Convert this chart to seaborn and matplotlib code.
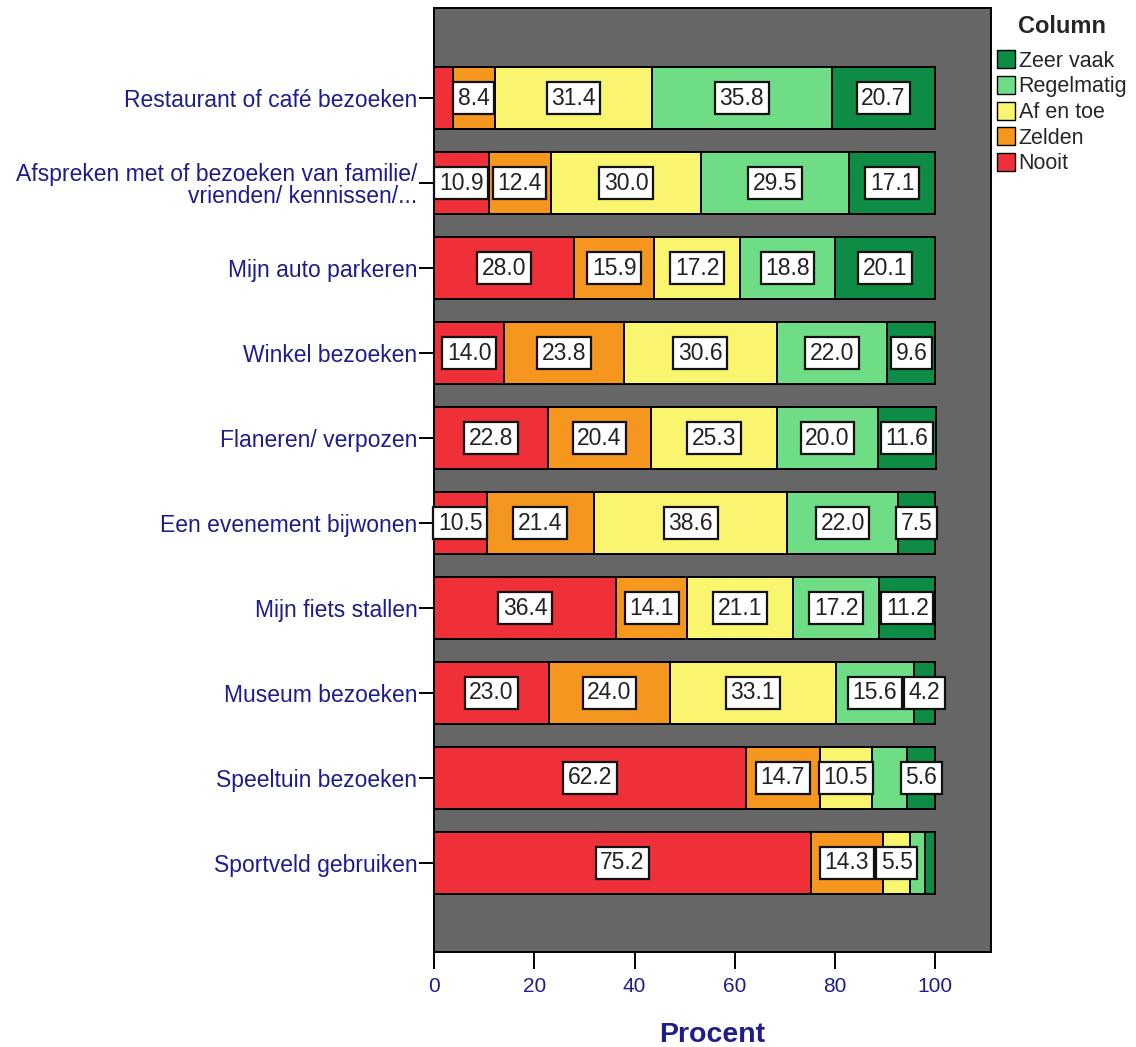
import numpy as np
import pandas as pd
import matplotlib
matplotlib.use("Agg")
import matplotlib.pyplot as plt
import seaborn as sns
from matplotlib.patches import Patch

# categorieen (van boven naar beneden)
activiteiten = [
    "Restaurant of café bezoeken",
    "Afspreken met of bezoeken van familie/\nvrienden/ kennissen/...",
    "Mijn auto parkeren",
    "Winkel bezoeken",
    "Flaneren/ verpozen",
    "Een evenement bijwonen",
    "Mijn fiets stallen",
    "Museum bezoeken",
    "Speeltuin bezoeken",
    "Sportveld gebruiken",
]

antwoorden = ["Nooit", "Zelden", "Af en toe", "Regelmatig", "Zeer vaak"]

nooit      = [3.7, 10.9, 28.0, 14.0, 22.8, 10.5, 36.4, 23.0, 62.2, 75.2]
zelden     = [8.4, 12.4, 15.9, 23.8, 20.4, 21.4, 14.1, 24.0, 14.7, 14.3]
af_en_toe  = [31.4, 30.0, 17.2, 30.6, 25.3, 38.6, 21.1, 33.1, 10.5, 5.5]
regelmatig = [35.8, 29.5, 18.8, 22.0, 20.0, 22.0, 17.2, 15.6, 7.0, 3.0]
zeer_vaak  = [20.7, 17.1, 20.1, 9.6, 11.6, 7.5, 11.2, 4.2, 5.6, 2.0]

# segmenten zonder label in het origineel (activiteit-index, antwoord)
geen_label = {(0, "Nooit"), (8, "Regelmatig"), (9, "Regelmatig"), (9, "Zeer vaak")}

kleuren = {
    "Nooit": "#ef3038",
    "Zelden": "#f5961e",
    "Af en toe": "#f9f56e",
    "Regelmatig": "#6fdc86",
    "Zeer vaak": "#0e8c46",
}

df = pd.DataFrame({
    "activiteit": activiteiten,
    "Nooit": nooit,
    "Zelden": zelden,
    "Af en toe": af_en_toe,
    "Regelmatig": regelmatig,
    "Zeer vaak": zeer_vaak,
})

cum = df[antwoorden].cumsum(axis=1)
start = cum - df[antwoorden]

sns.set_style("white")
plt.rcParams["font.family"] = ["Liberation Sans", "DejaVu Sans"]

fig = plt.figure(figsize=(11.36, 10.47), dpi=100)
ax = fig.add_axes([0.382, 0.0907, 0.490, 0.9013])
ax.set_facecolor("#666666")

# gestapeld: grootste cumulatieve eerst, daarna eroverheen
for a in reversed(antwoorden):
    sns.barplot(x=cum[a], y=df["activiteit"], orient="h", order=activiteiten,
                color=kleuren[a], saturation=1, edgecolor="black", linewidth=1.4,
                width=0.73, ax=ax)

navy = "#1d1d8c"
for i in range(len(activiteiten)):
    for a in antwoorden:
        if (i, a) in geen_label:
            continue
        v = df.loc[i, a]
        xm = start.loc[i, a] + v / 2
        ax.text(xm, i, f"{v:.1f}", ha="center", va="center", fontsize=16.5,
                color="#222222",
                bbox=dict(boxstyle="square,pad=0.2", fc="white", ec="#111111", lw=1.6))

ax.set_xlim(0, 111)
ax.set_ylim(len(activiteiten) - 1 + 1.05, -1.06)
ax.set_xticks([0, 20, 40, 60, 80, 100])
ax.tick_params(axis="x", bottom=True, direction="out", length=12, width=1.4, colors="black",
               labelcolor=navy, labelsize=15, pad=6)
ax.tick_params(axis="y", left=True, direction="out", length=11, width=1.4, colors="black",
               labelcolor=navy, labelsize=16.5, pad=1)
for lbl in ax.get_yticklabels():
    lbl.set_multialignment("right")
    lbl.set_linespacing(0.95)
ax.set_ylabel("")
ax.set_xlabel("Procent", fontsize=20.5, fontweight="bold", color=navy, labelpad=19)
for s in ax.spines.values():
    s.set_visible(True)
    s.set_color("black")
    s.set_linewidth(1.4)

handles = [Patch(facecolor=kleuren[a], edgecolor="black", label=a) for a in reversed(antwoorden)]
leg = ax.legend(handles=handles, title="Column", loc="upper left", bbox_to_anchor=(1.0, 1.0),
                frameon=False, fontsize=15.5, title_fontsize=17, handlelength=0.85,
                handleheight=0.9, handletextpad=0.15, labelspacing=0.2, borderaxespad=0.1,
                borderpad=0.2)
leg.get_title().set_fontweight("bold")
leg._legend_box.sep = 9

fig.savefig("out.png", dpi=100)
